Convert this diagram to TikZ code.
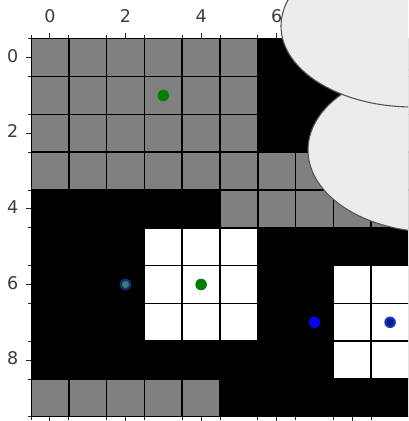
\documentclass[tikz,border=0pt]{standalone}
\usepackage{fontspec}
\setmainfont{DejaVu Sans}
\definecolor{cellgray}{RGB}{128,128,128}
\definecolor{bubblefill}{RGB}{236,236,236}
\definecolor{bubbleline}{RGB}{85,85,85}
\definecolor{dotgreen}{RGB}{0,128,0}
\definecolor{dotblue}{RGB}{5,5,235}
\definecolor{navyout}{RGB}{25,55,200}
\definecolor{navyin}{RGB}{10,30,125}
\definecolor{tealout}{RGB}{20,45,110}
\definecolor{tealin}{RGB}{50,125,115}
\definecolor{labelcol}{RGB}{60,60,60}
\begin{document}
\begin{tikzpicture}[x=1pt,y=-1pt,
  gridline/.style={black,line width=1.5pt},
  tickline/.style={black!85,line width=0.9pt},
  ticklabel/.style={font=\fontsize{17.5}{20}\selectfont,text=labelcol,inner sep=0pt},
  bubble/.style={fill=bubblefill,draw=bubbleline,line width=1.1pt},
  dot/.style={radius=5.8pt}]
\useasboundingbox (0,0) rectangle (408,421);
\clip (0,0) rectangle (408,421);
\begin{scope}[shift={(31,38.8)},x=37.8pt,y=-37.8pt]
  % cells
  \fill[black] (0,0) rectangle (10,10);
  \fill[cellgray] (0,0) rectangle (6,3);
  \fill[cellgray] (0,3) rectangle (10,4);
  \fill[cellgray] (5,4) rectangle (10,5);
  \fill[cellgray] (0,9) rectangle (5,10);
  \fill[white] (3,5) rectangle (6,8);
  \fill[white] (8,6) rectangle (10,9);
  \foreach \j in {1,...,9} {
    \draw[gridline] (\j,0) -- (\j,10);
    \draw[gridline] (0,\j) -- (10,\j);
  }
  \draw[black,line width=0.8pt] (0,0) rectangle (10,10);
  % minor ticks
  \foreach \j in {0,...,10} {
    \draw[tickline] (\j,0) -- ++(0pt,3.5pt);
    \draw[tickline] (\j,10) -- ++(0pt,-3.5pt);
    \draw[tickline] (0,\j) -- ++(-3.5pt,0pt);
  }
  % major ticks
  \foreach \i in {0,2,4,6,8} {
    \draw[tickline] (\i+0.5,0) -- ++(0pt,5.5pt);
    \draw[tickline] (\i+0.5,10) -- ++(0pt,-5.5pt);
    \draw[tickline] (0,\i+0.5) -- ++(-5.5pt,0pt);
    \node[ticklabel,anchor=base east] (yl\i) at ([shift={(-12.5pt,-4.6pt)}]0,\i+0.5) {\i};
  }
  \foreach \i in {0,2,4,6} {
    \node[ticklabel,anchor=base] (xl\i) at ([shift={(0pt,16.1pt)}]\i+0.5,0) {\i};
  }
  % dots
  \fill[dotgreen] (3.5,1.5) circle[dot];
  \fill[dotgreen] (4.5,6.5) circle[dot];
  \fill[tealout] (2.5,6.5) circle[dot];
  \fill[tealin] (2.5,6.5) circle[radius=3.6pt];
  \fill[dotblue] (7.5,7.5) circle[dot];
  \fill[navyout] (9.5,7.5) circle[dot];
  \fill[navyin] (9.5,7.5) circle[radius=3.8pt];
\end{scope}
% bubbles
\filldraw[bubble] (434,150) ellipse [x radius=126pt, y radius=82pt];
\filldraw[bubble] (413,26) ellipse [x radius=132pt, y radius=81pt];
\end{tikzpicture}
\end{document}
